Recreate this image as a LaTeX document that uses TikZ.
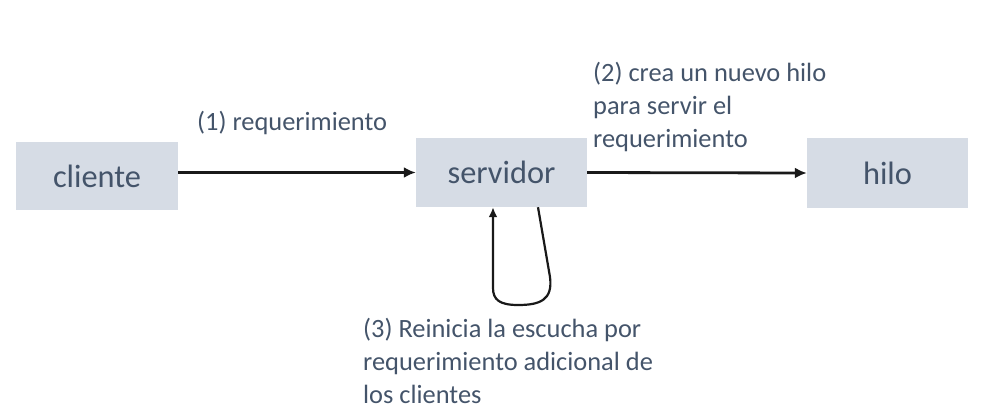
\documentclass[tikz,border=0pt]{standalone}
\usepackage{fontspec}
\setmainfont{Carlito}
\usetikzlibrary{arrows.meta,calc}
\definecolor{txt}{HTML}{44546A}
\definecolor{boxfill}{HTML}{D6DCE5}
\begin{document}
\begin{tikzpicture}[x=1bp,y=-1bp,
  box/.style={fill=boxfill, text=txt, font=\fontsize{32.5}{38}\selectfont, inner sep=0pt},
  lbl/.style={text=txt, font=\fontsize{26.5}{33}\selectfont, align=left, inner sep=0pt, anchor=base west},
  conn/.style={line width=2.8bp, draw=black!90, -{Latex[length=12bp,width=11bp]}},
  loopc/.style={line width=2.2bp, draw=black!90, -{Latex[length=10bp,width=9bp]}}]
\useasboundingbox (0,0) rectangle (986,419);
\node[box, minimum width=162bp, minimum height=68bp] (cli) at (97,176) {cliente};
\node[box, minimum width=171bp, minimum height=69bp] (srv) at (501.5,172.5) {servidor};
\node[box, minimum width=161bp, minimum height=70bp] (hilo) at (887.5,173) {hilo};
\draw[conn] (cli.east |- srv.west) -- (srv.west);
\draw[conn] (srv.east) -- (hilo.west);
\coordinate (ls) at ($(srv.south)+(36.5,0)$);
\coordinate (le) at ($(srv.south)+(-8.5,0)$);
\draw[loopc] (ls) -- (550,277) .. controls (553,300) and (540,305) .. (518,305) .. controls (500,305) and (493,300) .. (493,288) -- (le);
\node[lbl] (l1) at (197,130) {(1) requerimiento};
\node[lbl] (l2) at (593,147) {(2) crea un nuevo hilo\\para servir el\\requerimiento};
\node[lbl] (l3) at (363,403) {(3) Reinicia la escucha por\\requerimiento adicional de\\los clientes};
\end{tikzpicture}
\end{document}
